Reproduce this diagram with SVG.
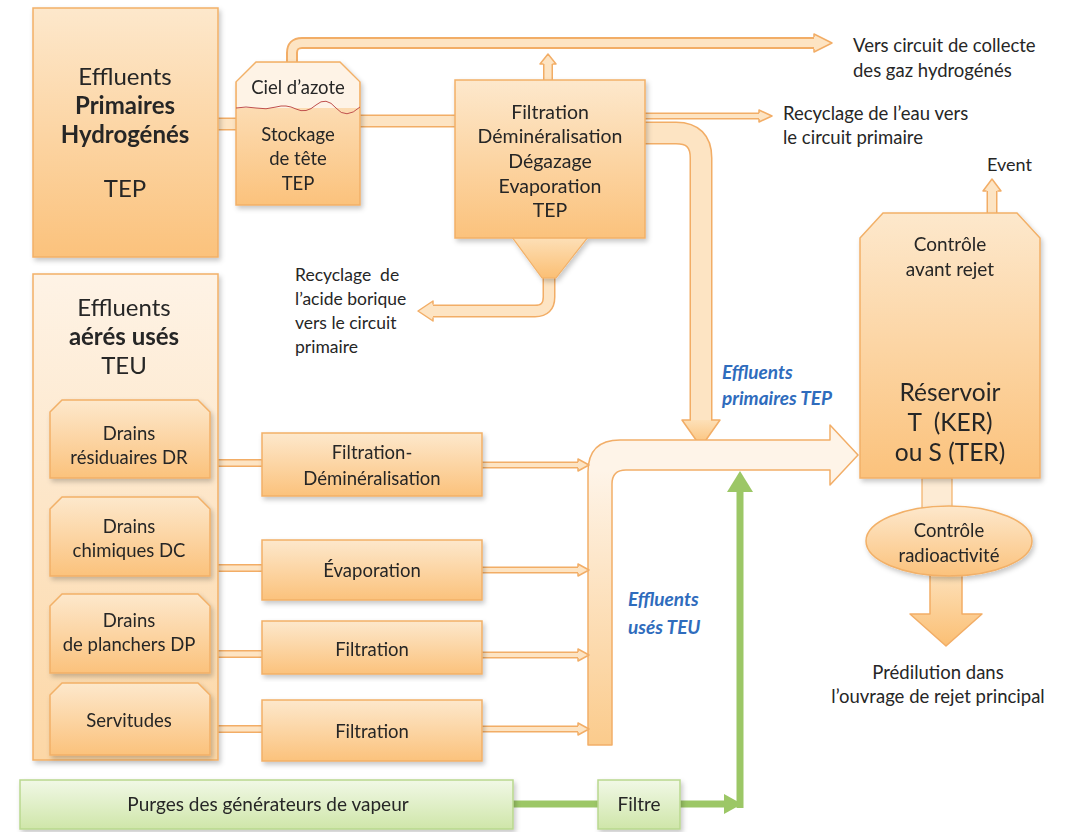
<svg xmlns="http://www.w3.org/2000/svg" width="1074" height="832" viewBox="0 0 1074 832">
<defs>
<linearGradient id="gOr" x1="0" y1="0" x2="0" y2="1"><stop offset="0" stop-color="#fde8cc"/><stop offset="1" stop-color="#fbc27c"/></linearGradient>
<linearGradient id="gOrL" x1="0" y1="0" x2="0" y2="1"><stop offset="0" stop-color="#fef3e6"/><stop offset="1" stop-color="#fcd7a6"/></linearGradient>
<linearGradient id="gGr" x1="0" y1="0" x2="0" y2="1"><stop offset="0" stop-color="#f1f8e6"/><stop offset="1" stop-color="#cfe6a9"/></linearGradient>
<linearGradient id="gCol" gradientUnits="userSpaceOnUse" x1="0" y1="440" x2="0" y2="745"><stop offset="0.1" stop-color="#fef4e8"/><stop offset="1" stop-color="#fbcb8c"/></linearGradient>
<linearGradient id="gArr" x1="0" y1="0" x2="0" y2="1"><stop offset="0" stop-color="#fde0b8"/><stop offset="1" stop-color="#fbbf74"/></linearGradient>
<filter id="sh" x="-10%" y="-10%" width="125%" height="125%"><feDropShadow dx="2" dy="3" stdDeviation="2.5" flood-color="#000" flood-opacity="0.22"/></filter>
</defs>
<style>
.box{fill:url(#gOr);stroke:#f2b067;stroke-width:1.5}
.boxL{fill:url(#gOrL);stroke:#f2b067;stroke-width:1.5}
.gbox{fill:url(#gGr);stroke:#b9d88e;stroke-width:1.5}
.po{fill:none;stroke:#f2ad66;stroke-linejoin:round}
.pi{fill:none;stroke:#fde4c3;stroke-linejoin:round}
.hf{fill:#fde4c3;stroke:none}
.hs{fill:none;stroke:#f2ad66;stroke-width:1.5;stroke-linejoin:round}
.t{font-family:Lato,"Open Sans",sans-serif;fill:#262626;text-anchor:middle}
.tl{font-family:Lato,"Open Sans",sans-serif;fill:#262626}
.b{font-weight:bold}
.blue{font-family:Lato,"Open Sans",sans-serif;fill:#2f6cbd;font-weight:bold;font-style:italic;font-size:19px}
.grn{fill:none;stroke:#9cc766;stroke-width:7}
</style>

<g id="connectors">
  <!-- gas pipe -->
  <path class="po" stroke-width="12" d="M292,63 V53 Q292,43 302,43 H815"/>
  <path class="pi" stroke-width="8" d="M292,64 V53 Q292,43 302,43 H816"/>
  <polygon class="hf" points="814,34 832,43 814,52"/>
  <path class="hs" d="M814,37 V34 L832,43 L814,52 V49"/>
  <!-- small up arrow from TEP -->
  <path class="po" stroke-width="10" d="M548,81 V64"/>
  <path class="pi" stroke-width="7" d="M548,82 V63"/>
  <polygon class="hf" points="540,64 548,54 556,64"/>
  <path class="hs" d="M543.5,64 H540 L548,54 L556,64 H552.5"/>
  <!-- pipe effluents -> tank -->
  <path class="po" stroke-width="13" d="M217,124 H237"/>
  <path class="pi" stroke-width="10" d="M216,124 H238"/>
  <!-- pipe tank -> TEP box -->
  <path class="po" stroke-width="13" d="M359,121 H456"/>
  <path class="pi" stroke-width="10" d="M358,121 H457"/>
  <!-- recyclage eau -->
  <path class="po" stroke-width="7" d="M644,116 H760"/>
  <path class="pi" stroke-width="4" d="M644,116 H761"/>
  <polygon class="hf" points="759,110 772,116 759,122"/>
  <path class="hs" d="M759,113 V110 L772,116 L759,122 V119"/>
  <!-- big pipe TEP -> down -->
  <path class="po" stroke-width="23" d="M644,133 H676 Q701,133 701,158 V421"/>
  <path class="pi" stroke-width="20" d="M643,133 H676 Q701,133 701,158 V422"/>
  <polygon fill="url(#gArr)" points="682,420 720,420 701,447"/>
  <path class="hs" d="M691,420 H682 L701,447 L720,420 H711"/>
  <!-- hopper outlet -->
  <path class="po" stroke-width="13" d="M549,277 V297 Q549,311 535,311 H432"/>
  <path class="pi" stroke-width="10" d="M549,276 V297 Q549,311 535,311 H431"/>
  <polygon class="hf" points="433,301 418,311 433,321"/>
  <path class="hs" d="M433,304.5 V301 L418,311 L433,321 V317.5"/>
  <!-- event -->
  <path class="po" stroke-width="11" d="M992,214 V190"/>
  <path class="pi" stroke-width="8" d="M992,215 V189"/>
  <polygon class="hf" points="983,191 992,179 1001,191"/>
  <path class="hs" d="M986.5,191 H983 L992,179 L1001,191 H997.5"/>
  <!-- collector + big horizontal arrow -->
  <path fill="url(#gCol)" stroke="#f2ae68" stroke-width="1.5" stroke-linejoin="round" d="M588,745 V472 Q588,440 620,440 H830 V425 L858,455 L830,485 V470 H626 Q612,470 612,484 V745 Z"/>
  <!-- drains -> process pipes -->
  <g>
    <path class="po" stroke-width="8" d="M209,463 H263 M209,568 H263 M209,654 H263 M209,729 H263"/>
    <path class="pi" stroke-width="5" d="M208,463 H264 M208,568 H264 M208,654 H264 M208,729 H264"/>
  </g>
  <!-- process -> collector arrows -->
  <g>
    <path class="po" stroke-width="7" d="M481,465 H578 M481,570 H578 M481,655 H578 M481,729 H578"/>
    <path class="pi" stroke-width="4" d="M480,465 H579 M480,570 H579 M480,655 H579 M480,729 H579"/>
    <polygon class="hf" points="578,459 589,465 578,471"/>
    <path class="hs" d="M578,462 V459 L589,465 L578,471 V468"/>
    <polygon class="hf" points="578,564 589,570 578,576"/>
    <path class="hs" d="M578,567 V564 L589,570 L578,576 V573"/>
    <polygon class="hf" points="578,649 589,655 578,661"/>
    <path class="hs" d="M578,652 V649 L589,655 L578,661 V658"/>
    <polygon class="hf" points="578,723 589,729 578,735"/>
    <path class="hs" d="M578,726 V723 L589,729 L578,735 V732"/>
  </g>
  <!-- reservoir -> ellipse -->
  <rect x="922" y="478" width="30" height="30" fill="#fdebd4" stroke="#f2b067" stroke-width="1.2"/>
  <!-- prédilution arrow -->
  <path fill="url(#gArr)" stroke="#f2ad66" stroke-width="1.5" stroke-linejoin="round" d="M930,575 H962 V614 H982 L946,646 L910,614 H930 Z"/>
  <!-- green -->
  <path class="grn" d="M512,804 H599"/>
  <path class="grn" d="M679,804 H730"/>
  <path class="grn" d="M740,808 V488"/>
  <polygon fill="#9cc766" points="724,794 742,804 724,814"/>
  <polygon fill="#9cc766" points="727,492 740,471 753,492"/>
</g>

<g id="n-primaires" filter="url(#sh)">
  <rect class="box" x="33" y="8" width="185" height="249"/>
  <text class="t" x="125" y="85" font-size="24">Effluents</text>
  <text class="t b" x="125" y="114" font-size="24">Primaires</text>
  <text class="t b" x="125" y="143" font-size="24">Hydrogénés</text>
  <text class="t" x="125" y="197" font-size="24">TEP</text>
</g>

<g id="n-tank" filter="url(#sh)">
  <path class="box" d="M236,82 L256,62 H340 L360,82 V205 H236 Z"/>
  <path fill="#fef3e6" d="M237,82 L256.5,63 H339.5 L359,82 V108 H237 Z"/>
  <path fill="none" stroke="#c0504d" stroke-width="1" d="M236,108 Q246,106 256,108 T276,107 T296,109 T316,105 T336,108 T360,107"/>
  <text class="t" x="298" y="94" font-size="18.5">Ciel d’azote</text>
  <text class="t" x="298" y="141" font-size="18.5">Stockage</text>
  <text class="t" x="298" y="165" font-size="18.5">de tête</text>
  <text class="t" x="298" y="190" font-size="18.5">TEP</text>
</g>

<g id="n-tep" filter="url(#sh)">
  <polygon fill="url(#gArr)" stroke="#f2b067" stroke-width="1.2" points="512,237 588,237 556,278 542,278"/>
  <rect class="box" x="455" y="80" width="190" height="158"/>
  <text class="t" x="550" y="119" font-size="19.5">Filtration</text>
  <text class="t" x="550" y="143" font-size="19.5">Déminéralisation</text>
  <text class="t" x="550" y="168" font-size="19.5">Dégazage</text>
  <text class="t" x="550" y="193" font-size="19.5">Evaporation</text>
  <text class="t" x="550" y="217" font-size="19.5">TEP</text>
</g>

<g id="l-gaz">
  <text class="tl" x="853" y="52" font-size="18.5">Vers circuit de collecte</text>
  <text class="tl" x="853" y="77" font-size="18.5">des gaz hydrogénés</text>
</g>
<g id="l-eau">
  <text class="tl" x="783" y="120" font-size="18.5">Recyclage de l’eau vers</text>
  <text class="tl" x="783" y="144" font-size="18.5">le circuit primaire</text>
</g>
<g id="l-bore">
  <text class="tl" x="295" y="281" font-size="17.5" xml:space="preserve">Recyclage  de</text>
  <text class="tl" x="295" y="305" font-size="17.5">l’acide borique</text>
  <text class="tl" x="295" y="329" font-size="17.5">vers le circuit</text>
  <text class="tl" x="295" y="353" font-size="17.5">primaire</text>
</g>
<g id="l-event">
  <text class="tl" x="987" y="171" font-size="18">Event</text>
</g>

<g id="n-reservoir" filter="url(#sh)">
  <path class="box" d="M860,238 L883,213 H1017 L1040,238 V478 H860 Z"/>
  <text class="t" x="950" y="251" font-size="19">Contrôle</text>
  <text class="t" x="950" y="276" font-size="19">avant rejet</text>
  <text class="t" x="950" y="401" font-size="24.5">Réservoir</text>
  <text class="t" x="950" y="431" font-size="24.5" xml:space="preserve">T  (KER)</text>
  <text class="t" x="950" y="461" font-size="24.5">ou S (TER)</text>
</g>

<g id="n-radio" filter="url(#sh)">
  <ellipse cx="949" cy="541" rx="83" ry="35" fill="url(#gOr)" stroke="#f2b067" stroke-width="1.5"/>
  <text class="t" x="949" y="537" font-size="18.5">Contrôle</text>
  <text class="t" x="949" y="562" font-size="18.5">radioactivité</text>
</g>

<g id="l-predilution">
  <text class="t" x="938" y="679" font-size="18.5">Prédilution dans</text>
  <text class="t" x="938" y="703" font-size="18.5">l’ouvrage de rejet principal</text>
</g>

<g id="l-blue">
  <text class="blue" x="722" y="379">Effluents</text>
  <text class="blue" x="722" y="405">primaires TEP</text>
  <text class="blue" x="628" y="606">Effluents</text>
  <text class="blue" x="628" y="634">usés TEU</text>
</g>

<g id="n-aeres" filter="url(#sh)">
  <rect class="boxL" x="33" y="274" width="185" height="486"/>
  <text class="t" x="124" y="316" font-size="24">Effluents</text>
  <text class="t b" x="124" y="345" font-size="24">aérés usés</text>
  <text class="t" x="124" y="374" font-size="24">TEU</text>
</g>

<g id="n-dr" filter="url(#sh)">
  <path class="box" d="M50,412 L62,400 H198 L210,412 V478 H50 Z"/>
  <text class="t" x="129" y="440" font-size="18.5">Drains</text>
  <text class="t" x="129" y="464" font-size="18.5">résiduaires DR</text>
</g>
<g id="n-dc" filter="url(#sh)">
  <path class="box" d="M50,509 L62,497 H198 L210,509 V576 H50 Z"/>
  <text class="t" x="129" y="533" font-size="18.5">Drains</text>
  <text class="t" x="129" y="557" font-size="18.5">chimiques DC</text>
</g>
<g id="n-dp" filter="url(#sh)">
  <path class="box" d="M50,606 L62,594 H198 L210,606 V673 H50 Z"/>
  <text class="t" x="129" y="627" font-size="18.5">Drains</text>
  <text class="t" x="129" y="651" font-size="18.5">de planchers DP</text>
</g>
<g id="n-serv" filter="url(#sh)">
  <path class="box" d="M50,695 L62,683 H198 L210,695 V755 H50 Z"/>
  <text class="t" x="129" y="727" font-size="18.5">Servitudes</text>
</g>

<g id="p-fd" filter="url(#sh)">
  <rect class="box" x="262" y="433" width="220" height="63"/>
  <text class="t" x="372" y="459" font-size="18.5">Filtration-</text>
  <text class="t" x="372" y="485" font-size="18.5">Déminéralisation</text>
</g>
<g id="p-evap" filter="url(#sh)">
  <rect class="box" x="262" y="540" width="220" height="60"/>
  <text class="t" x="372" y="577" font-size="18.5">Évaporation</text>
</g>
<g id="p-filt1" filter="url(#sh)">
  <rect class="box" x="262" y="621" width="220" height="53"/>
  <text class="t" x="372" y="656" font-size="18.5">Filtration</text>
</g>
<g id="p-filt2" filter="url(#sh)">
  <rect class="box" x="262" y="700" width="220" height="61"/>
  <text class="t" x="372" y="738" font-size="18.5">Filtration</text>
</g>

<g id="n-purges" filter="url(#sh)">
  <rect class="gbox" x="20" y="780" width="493" height="49"/>
  <text class="t" x="268" y="811" font-size="19">Purges des générateurs de vapeur</text>
</g>
<g id="n-filtre" filter="url(#sh)">
  <rect class="gbox" x="598" y="780" width="82" height="49"/>
  <text class="t" x="639" y="811" font-size="19">Filtre</text>
</g>
</svg>
